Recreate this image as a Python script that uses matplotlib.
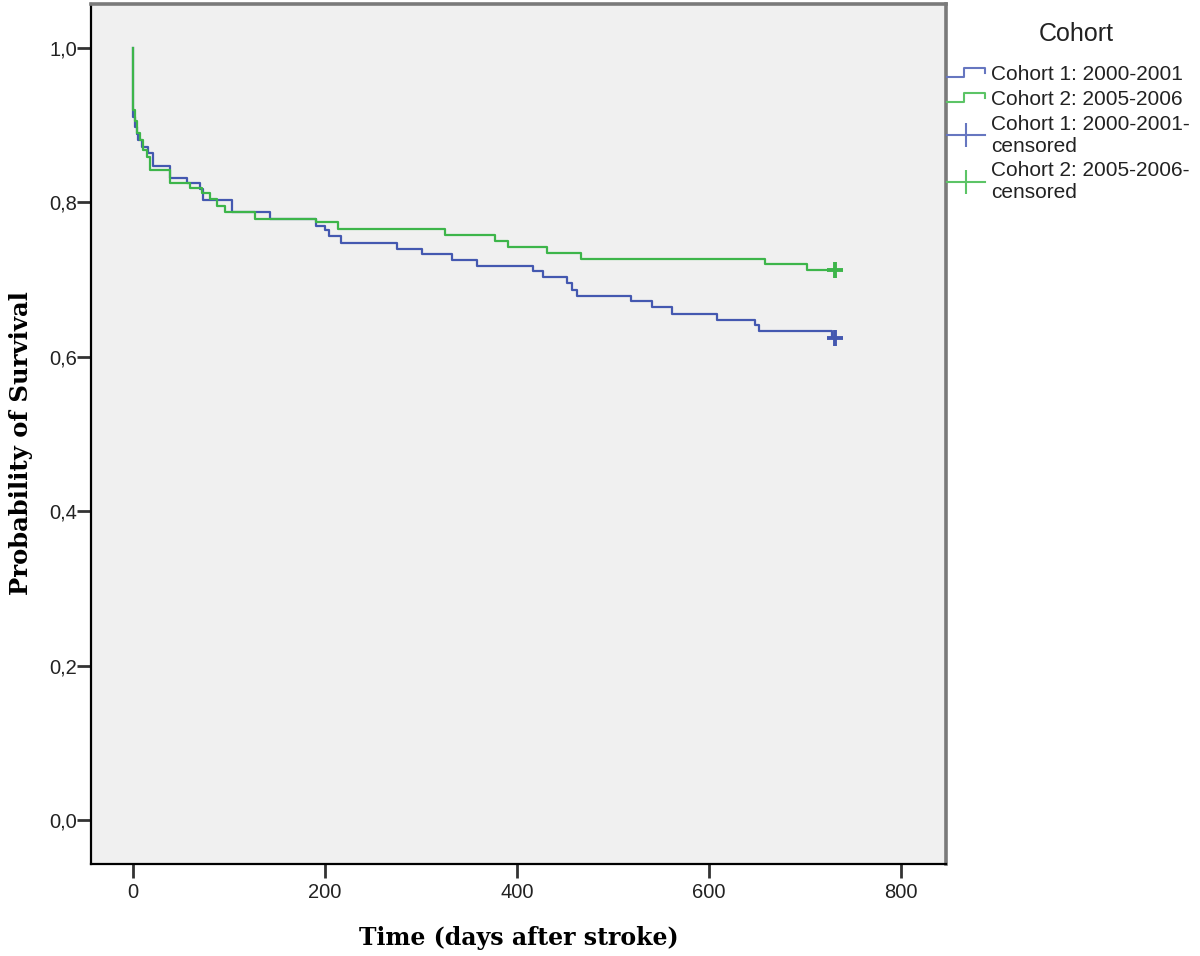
"""Kaplan-Meier survival curves for the two stroke cohorts."""

import matplotlib
matplotlib.use("Agg")
import matplotlib.pyplot as plt
from matplotlib.legend_handler import HandlerBase
from matplotlib.lines import Line2D

# Cohort 1: 2000-2001 (event times in days, survival after each step)
c1_days = [0, 0.5, 2.1, 3.8, 5.6, 9.0, 16, 21, 38.5, 56, 70, 73, 103, 143,
           191, 200, 204.5, 217, 275, 301, 332, 358, 417, 427, 452, 457,
           463, 519, 541, 562, 608, 648, 652, 728, 731]
c1_surv = [1.0, 0.911, 0.898, 0.889, 0.881, 0.872, 0.864, 0.847, 0.831,
           0.825, 0.818, 0.803, 0.787, 0.779, 0.770, 0.764, 0.756, 0.748,
           0.740, 0.733, 0.725, 0.718, 0.711, 0.703, 0.695, 0.687, 0.679,
           0.672, 0.664, 0.656, 0.648, 0.641, 0.633, 0.625, 0.625]

# Cohort 2: 2005-2006
c2_days = [0, 0.5, 2, 3.8, 7.3, 10.8, 14.2, 17.7, 38.5, 59.4, 71.5, 80.2,
           87.2, 95.8, 127, 191, 214, 325.6, 376.8, 390.6, 431.7, 466.4,
           658, 702, 731]
c2_surv = [1.0, 0.920, 0.905, 0.890, 0.881, 0.868, 0.859, 0.842, 0.825,
           0.819, 0.812, 0.805, 0.795, 0.787, 0.779, 0.775, 0.766, 0.758,
           0.750, 0.742, 0.735, 0.727, 0.720, 0.712, 0.712]

# censored point at end of follow-up
c1_cens = ([731], [0.625])
c2_cens = ([731], [0.712])

labels = ["Cohort 1: 2000-2001", "Cohort 2: 2005-2006",
          "Cohort 1: 2000-2001-\ncensored", "Cohort 2: 2005-2006-\ncensored"]
x_ticks = [0, 200, 400, 600, 800]
y_ticks = [0.0, 0.2, 0.4, 0.6, 0.8, 1.0]

BLUE = "#4458b0"
GREEN = "#3db54a"


class StepHandler(HandlerBase):
    """Small step-shaped icon for the survival lines."""

    def create_artists(self, legend, orig_handle, xdescent, ydescent,
                       width, height, fontsize, trans):
        w, h = width, height
        xs = [-xdescent, 0.45 * w, 0.45 * w, w, w]
        ys = [0.2 * h, 0.2 * h, 0.8 * h, 0.8 * h, 0.45 * h]
        line = Line2D(xs, ys, color=orig_handle.get_color(),
                      lw=1.5, transform=trans)
        return [line]


fig = plt.figure(figsize=(12, 9.56), dpi=100)
ax = fig.add_axes([0.0758, 0.0962, 0.7125, 0.8996])
ax.set_facecolor("#f0f0f0")

ax.step(c1_days, c1_surv, where="post", color=BLUE, lw=1.6)
ax.step(c2_days, c2_surv, where="post", color=GREEN, lw=1.6)
ax.plot(*c1_cens, linestyle="none", marker="+", markersize=12,
        markeredgewidth=2.8, color=BLUE)
ax.plot(*c2_cens, linestyle="none", marker="+", markersize=12,
        markeredgewidth=2.8, color=GREEN)

ax.set_xlim(-43.75, 847)
ax.set_ylim(-0.057, 1.057)
ax.set_xticks(x_ticks)
ax.set_yticks(y_ticks)
ax.set_yticklabels([f"{v:.1f}".replace(".", ",") for v in y_ticks])

ax.tick_params(axis="x", direction="out", length=10, width=2,
               labelsize=14.5, pad=4, color="#333333")
ax.tick_params(axis="y", direction="out", length=10, width=2,
               labelsize=14.5, pad=0, color="#333333")
for lab in ax.get_xticklabels() + ax.get_yticklabels():
    lab.set_fontfamily("Liberation Sans")
    lab.set_color("#222222")

ax.spines["left"].set_color("black")
ax.spines["left"].set_linewidth(1.6)
ax.spines["bottom"].set_color("black")
ax.spines["bottom"].set_linewidth(1.6)
ax.spines["top"].set_color("#7a7a7a")
ax.spines["top"].set_linewidth(2.6)
ax.spines["right"].set_color("#7a7a7a")
ax.spines["right"].set_linewidth(2.6)

ax.set_xlabel("Time (days after stroke)", fontfamily="DejaVu Serif",
              fontweight="bold", fontsize=17, labelpad=17)
ax.set_ylabel("Probability of Survival", fontfamily="DejaVu Serif",
              fontweight="bold", fontsize=17.5)
ax.yaxis.set_label_coords(-0.068, 0.49)

# legend: title drawn separately so the gap below it can be set
fig.text(1076 / 1200, 1 - 34 / 956, "Cohort", ha="center", va="center",
         fontfamily="Liberation Sans", fontsize=18, color="#222222")

h1 = Line2D([0], [0], color="#6676c0")
h2 = Line2D([0], [0], color="#5cc466")
h3 = Line2D([0], [0], color="#6676c0", marker="|", markersize=17,
            markeredgewidth=1.5, lw=1.5)
h4 = Line2D([0], [0], color="#5cc466", marker="|", markersize=17,
            markeredgewidth=1.5, lw=1.5)
leg = fig.legend([h1, h2, h3, h4], labels,
                 loc="upper left", bbox_to_anchor=(947 / 1200, 1 - 65 / 956),
                 frameon=False, handler_map={h1: StepHandler(), h2: StepHandler()},
                 prop={"family": "Liberation Sans", "size": 15},
                 handlelength=1.8, handletextpad=0.3, labelspacing=0.28,
                 borderaxespad=0, borderpad=0)
for t in leg.get_texts():
    t.set_color("#222222")
    t.set_linespacing(1.2)

fig.savefig("out.png", dpi=100)
